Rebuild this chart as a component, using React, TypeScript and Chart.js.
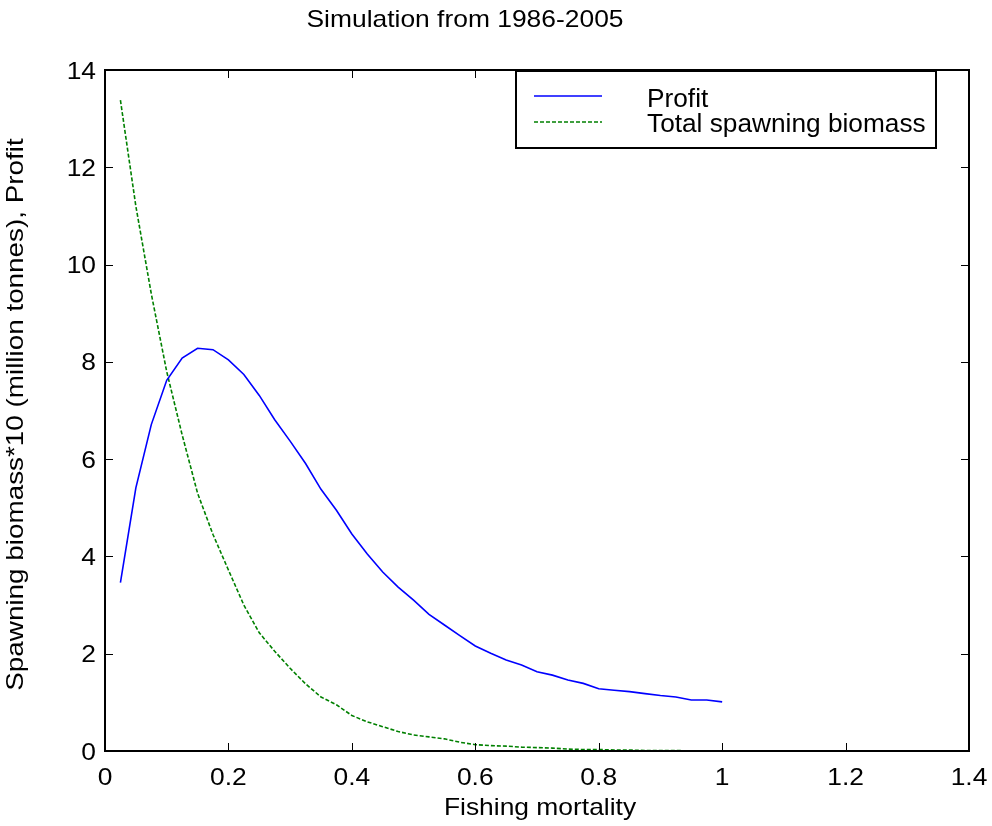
import React, { useEffect, useRef } from "react";
import { Chart, registerables } from "chart.js";

Chart.register(...registerables);

const fishingMortality = [
  0.025, 0.05, 0.075, 0.1, 0.125, 0.15, 0.175, 0.2, 0.225, 0.25,
  0.275, 0.3, 0.325, 0.35, 0.375, 0.4, 0.425, 0.45, 0.475, 0.5,
  0.525, 0.55, 0.575, 0.6, 0.625, 0.65, 0.675, 0.7, 0.725, 0.75,
  0.775, 0.8, 0.825, 0.85, 0.875, 0.9, 0.925, 0.95, 0.975, 1.0,
];

const profit = [
  3.46, 5.41, 6.71, 7.62, 8.08, 8.28, 8.25, 8.04, 7.74, 7.31,
  6.81, 6.37, 5.91, 5.38, 4.95, 4.46, 4.05, 3.68, 3.37, 3.1,
  2.81, 2.59, 2.37, 2.16, 2.01, 1.87, 1.77, 1.63, 1.56, 1.46,
  1.39, 1.28, 1.25, 1.22, 1.18, 1.14, 1.11, 1.05, 1.05, 1.01,
];

const spawningBiomass = [
  13.38, 11.2, 9.4, 7.8, 6.5, 5.3, 4.45, 3.72, 3.0, 2.43,
  2.05, 1.7, 1.38, 1.11, 0.95, 0.73, 0.6, 0.5, 0.4, 0.33,
  0.29, 0.25, 0.18, 0.13, 0.11, 0.1, 0.08, 0.07, 0.06, 0.04,
  0.03, 0.03, 0.02, 0.02, 0.01, 0.01, 0.01, 0.0, 0.0, 0.0,
];

const xTicks = [0, 0.2, 0.4, 0.6, 0.8, 1, 1.2, 1.4];
const xTickLabels = ["0", "0.2", "0.4", "0.6", "0.8", "1", "1.2", "1.4"];
const yTicks = [0, 2, 4, 6, 8, 10, 12, 14];
const yTickLabels = ["0", "2", "4", "6", "8", "10", "12", "14"];

const titleText = "Simulation from 1986-2005";
const xTitle = "Fishing mortality";
const yTitle = "Spawning biomass*10 (million tonnes), Profit";
const seriesNames = ["Profit", "Total spawning biomass"];

const FONT = "24px 'Liberation Sans', Arial, Helvetica, sans-serif";

function drawText(
  ctx: CanvasRenderingContext2D,
  s: string,
  x: number,
  y: number,
  align: CanvasTextAlign,
  baseline: CanvasTextBaseline,
  sx: number,
  font: string = FONT
) {
  ctx.save();
  ctx.translate(x, y);
  ctx.scale(sx, 1);
  ctx.font = font;
  ctx.fillStyle = "#000";
  ctx.textAlign = align;
  ctx.textBaseline = baseline;
  ctx.fillText(s, 0, 0);
  ctx.restore();
}

const matlabPlugin = {
  id: "matlabAxes",
  afterDraw(chart: any) {
    const ctx: CanvasRenderingContext2D = chart.ctx;
    const { left, right, top, bottom } = chart.chartArea;
    const xs = chart.scales.x;
    const ys = chart.scales.y;
    const tl = 8;

    ctx.save();
    // ticks
    ctx.strokeStyle = "#000";
    ctx.lineWidth = 1;
    ctx.beginPath();
    xTicks.forEach((v) => {
      const px = Math.round(xs.getPixelForValue(v)) + 0.5;
      ctx.moveTo(px, bottom);
      ctx.lineTo(px, bottom - tl);
      ctx.moveTo(px, top);
      ctx.lineTo(px, top + tl);
    });
    yTicks.forEach((v) => {
      const py = Math.round(ys.getPixelForValue(v)) + 0.5;
      ctx.moveTo(left, py);
      ctx.lineTo(left + tl, py);
      ctx.moveTo(right, py);
      ctx.lineTo(right - tl, py);
    });
    ctx.stroke();

    // box
    ctx.lineWidth = 2;
    ctx.strokeRect(left, top, right - left, bottom - top);

    // tick labels
    xTicks.forEach((v, i) => {
      drawText(ctx, xTickLabels[i], xs.getPixelForValue(v), 785, "center", "alphabetic", 1.1);
    });
    yTicks.forEach((v, i) => {
      drawText(ctx, yTickLabels[i], 96, ys.getPixelForValue(v) + 2, "right", "middle", 1.1);
    });

    // titles
    drawText(ctx, titleText, 465, 27, "center", "alphabetic", 1.1);
    drawText(ctx, xTitle, (left + right) / 2 + 3, 815, "center", "alphabetic", 1.1);
    ctx.save();
    ctx.translate(23, (top + bottom) / 2 + 4);
    ctx.rotate(-Math.PI / 2);
    drawText(ctx, yTitle, 0, 0, "center", "alphabetic", 1.16);
    ctx.restore();

    // legend
    const lx0 = 516, lx1 = 936, ly0 = 71, ly1 = 148;
    ctx.fillStyle = "#fff";
    ctx.fillRect(lx0, ly0, lx1 - lx0, ly1 - ly0);
    ctx.lineWidth = 2;
    ctx.strokeStyle = "#000";
    ctx.strokeRect(lx0, ly0, lx1 - lx0, ly1 - ly0);

    const dsets = chart.data.datasets;
    const rows = [96, 122];
    const textBase = [106.5, 131.7];
    dsets.forEach((ds: any, i: number) => {
      ctx.save();
      ctx.strokeStyle = ds.borderColor;
      ctx.lineWidth = ds.borderWidth;
      ctx.setLineDash(ds.borderDash || []);
      ctx.beginPath();
      ctx.moveTo(534, rows[i]);
      ctx.lineTo(602, rows[i]);
      ctx.stroke();
      ctx.restore();
      drawText(ctx, ds.label, 647, textBase[i], "left", "alphabetic", 1.05,
        "25px 'Liberation Sans', Arial, Helvetica, sans-serif");
    });
    ctx.restore();
  },
};

export default function App() {
  const ref = useRef<HTMLCanvasElement | null>(null);

  useEffect(() => {
    if (!ref.current) return;
    const chart = new Chart(ref.current, {
      type: "line",
      data: {
        datasets: [
          {
            label: seriesNames[0],
            data: fishingMortality.map((x, i) => ({ x, y: profit[i] })),
            borderColor: "#0000ff",
            borderWidth: 1.6,
            pointRadius: 0,
            fill: false,
            tension: 0,
          },
          {
            label: seriesNames[1],
            data: fishingMortality.map((x, i) => ({ x, y: spawningBiomass[i] })),
            borderColor: "#008000",
            borderWidth: 1.6,
            borderDash: [4, 2],
            pointRadius: 0,
            fill: false,
            tension: 0,
          },
        ],
      },
      options: {
        animation: false,
        responsive: false,
        maintainAspectRatio: false,
        layout: { padding: { left: 105, right: 23, top: 70, bottom: 75 } },
        plugins: {
          legend: { display: false },
          title: { display: false },
          tooltip: { enabled: false },
        },
        scales: {
          x: { type: "linear", min: 0, max: 1.4, display: false },
          y: { type: "linear", min: 0, max: 14, display: false },
        },
      },
      plugins: [matlabPlugin],
    });
    return () => chart.destroy();
  }, []);

  return (
    <div style={{ position: "fixed", left: 0, top: 0, width: 992, height: 826, background: "#fff" }}>
      <canvas ref={ref} width={992} height={826} style={{ width: 992, height: 826, display: "block" }} />
    </div>
  );
}
